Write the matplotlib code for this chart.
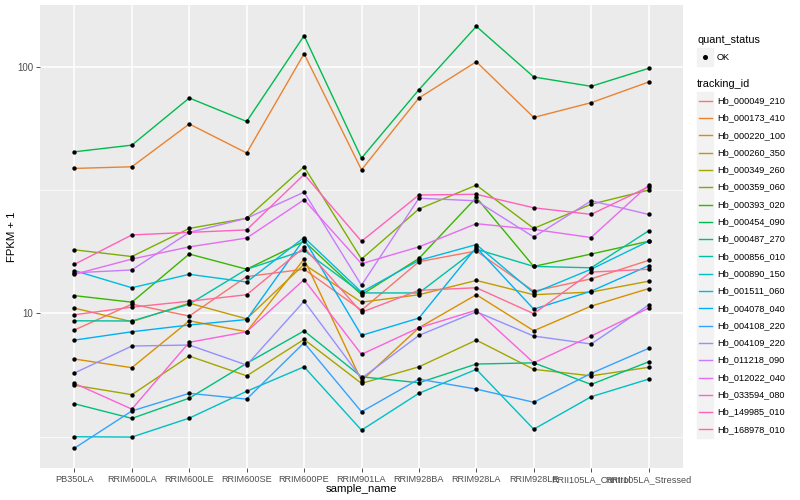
import math

import matplotlib
matplotlib.use("Agg")
import matplotlib.pyplot as plt
import numpy as np
from matplotlib.lines import Line2D
from matplotlib.patches import Rectangle
from matplotlib.ticker import FixedLocator, NullFormatter

plt.rcParams["font.family"] = ["Liberation Sans", "DejaVu Sans"]

samples = ["PB350LA", "RRIM600LA", "RRIM600LE", "RRIM600SE", "RRIM600PE",
           "RRIM901LA", "RRIM928BA", "RRIM928LA", "RRIM928LE",
           "RRII105LA_Control", "RRII105LA_Stressed"]

# FPKM + 1 per sample
hb_000049_210 = [8.56, 10.9, 9.75, 14.1, 15.1, 10.3, 16.2, 17.9, 12.3, 13.8, 16.4]
hb_000173_410 = [38.7, 39.3, 58.6, 44.7, 112.9, 38.2, 74.7, 104.8, 62.3, 71.5, 86.7]
hb_000220_100 = [6.53, 6.02, 9.33, 8.42, 16.6, 5.33, 8.74, 11.9, 8.50, 10.7, 12.6]
hb_000260_350 = [10.5, 9.25, 11.0, 9.5, 15.8, 11.1, 11.9, 13.6, 11.9, 12.2, 13.5]
hb_000349_260 = [5.11, 4.68, 6.71, 5.58, 7.84, 5.20, 6.07, 7.79, 5.93, 5.58, 6.04]
hb_000359_060 = [18.1, 17.0, 22.1, 24.3, 39.3, 16.6, 26.5, 33.1, 22.1, 27.7, 31.6]
hb_000393_020 = [11.8, 11.1, 17.4, 15.1, 19.6, 11.9, 16.7, 29.5, 15.5, 17.4, 19.6]
hb_000454_090 = [45.2, 48.1, 74.7, 60.0, 133.6, 42.6, 80.7, 145.8, 90.9, 83.3, 98.5]
hb_000487_270 = [4.30, 3.75, 4.53, 6.27, 8.49, 5.53, 5.23, 6.23, 6.30, 5.15, 6.36]
hb_000856_010 = [9.33, 9.31, 10.9, 15.1, 18.0, 12.1, 12.1, 18.2, 15.5, 15.3, 21.6]
hb_000890_150 = [3.16, 3.15, 3.76, 4.83, 6.07, 3.36, 4.74, 5.93, 3.39, 4.59, 5.41]
hb_001511_060 = [14.9, 12.7, 14.4, 13.4, 20.3, 12.2, 16.4, 19.0, 12.1, 15.1, 19.6]
hb_004078_040 = [7.79, 8.42, 8.97, 9.44, 20.0, 8.14, 9.57, 18.5, 10.4, 12.3, 15.6]
hb_004108_220 = [2.84, 4.02, 4.74, 4.49, 7.60, 3.99, 5.41, 4.93, 4.36, 5.71, 7.21]
hb_004109_220 = [5.73, 7.37, 7.44, 6.17, 11.2, 5.45, 8.14, 10.15, 8.09, 7.51, 10.8]
hb_011218_090 = [14.6, 15.0, 21.3, 24.3, 31.0, 13.0, 29.3, 28.6, 20.4, 28.6, 25.2]
hb_012022_040 = [14.4, 16.6, 18.6, 20.2, 28.9, 15.9, 18.6, 23.1, 21.9, 20.3, 33.1]
hb_033594_080 = [5.20, 4.09, 7.63, 8.42, 13.7, 6.82, 8.74, 10.3, 6.30, 8.09, 10.5]
hb_149985_010 = [15.8, 20.8, 21.3, 21.8, 36.6, 19.6, 30.2, 30.4, 26.8, 25.2, 32.6]
hb_168978_010 = [9.87, 10.6, 11.2, 11.9, 18.5, 10.1, 12.4, 12.7, 9.97, 14.7, 15.1]

tracking_ids = ["Hb_000049_210", "Hb_000173_410", "Hb_000220_100", "Hb_000260_350",
                "Hb_000349_260", "Hb_000359_060", "Hb_000393_020", "Hb_000454_090",
                "Hb_000487_270", "Hb_000856_010", "Hb_000890_150", "Hb_001511_060",
                "Hb_004078_040", "Hb_004108_220", "Hb_004109_220", "Hb_011218_090",
                "Hb_012022_040", "Hb_033594_080", "Hb_149985_010", "Hb_168978_010"]
series = [hb_000049_210, hb_000173_410, hb_000220_100, hb_000260_350,
          hb_000349_260, hb_000359_060, hb_000393_020, hb_000454_090,
          hb_000487_270, hb_000856_010, hb_000890_150, hb_001511_060,
          hb_004078_040, hb_004108_220, hb_004109_220, hb_011218_090,
          hb_012022_040, hb_033594_080, hb_149985_010, hb_168978_010]


def hcl(h, c=100.0, l=65.0):
    """polar LUV -> sRGB, like R's hcl()"""
    hr = math.radians(h)
    u, v = c * math.cos(hr), c * math.sin(hr)
    xn, yn, zn = 95.047, 100.0, 108.883
    den = xn + 15 * yn + 3 * zn
    un, vn = 4 * xn / den, 9 * yn / den
    y = yn * ((l + 16) / 116) ** 3
    up = u / (13 * l) + un
    vp = v / (13 * l) + vn
    x = 9.0 * y * up / (4 * vp)
    z = -x / 3 - 5 * y + 3 * y / vp
    x, y, z = x / 100, y / 100, z / 100
    r = 3.240479 * x - 1.537150 * y - 0.498535 * z
    g = -0.969256 * x + 1.875992 * y + 0.041556 * z
    b = 0.055648 * x - 0.204043 * y + 1.057311 * z

    def gam(t):
        t = 12.92 * t if t <= 0.0031308 else 1.055 * t ** (1 / 2.4) - 0.055
        return min(max(t, 0.0), 1.0)
    return (gam(r), gam(g), gam(b))


n = len(series)
colors = [hcl(15 + i * 360 / n) for i in range(n)]

W, H = 800, 500
fig = plt.figure(figsize=(8, 5), dpi=100)
left, right, top, bottom = 40, 683, 5, 468
ax = fig.add_axes([left / W, 1 - bottom / H, (right - left) / W, (bottom - top) / H])
ax.set_facecolor("#EBEBEB")
ax.set_yscale("log")

x = np.arange(len(samples))
for vals, col in zip(series, colors):
    ax.plot(x, vals, color=col, lw=1.0, zorder=2)
for vals in series:
    ax.scatter(x, vals, s=10, color="black", zorder=3, linewidths=0)

ax.set_xlim(-0.6, len(samples) - 0.4)
ax.set_ylim(2.36, 178)
ax.set_xticks(x)
ax.set_xticklabels(samples)
ax.set_yticks([10, 100])
ax.set_yticklabels(["10", "100"])
ax.yaxis.set_minor_locator(FixedLocator([10 ** 0.5, 10 ** 1.5]))
ax.yaxis.set_minor_formatter(NullFormatter())
ax.grid(which="major", color="white", lw=1.1)
ax.grid(which="minor", axis="y", color="white", lw=0.5)
ax.set_axisbelow(True)
for s in ax.spines.values():
    s.set_visible(False)
ax.tick_params(which="major", length=3, width=0.6, color="#333333",
               labelsize=6.6, labelcolor="#4D4D4D", pad=2)
ax.tick_params(axis="y", labelsize=7)
ax.tick_params(which="minor", length=0)
ax.set_xlabel("sample_name", fontsize=8.2, labelpad=0)
ax.set_ylabel("FPKM + 1", fontsize=8.2)
ax.yaxis.set_label_coords((17 - left) / (right - left), 0.5)


def fx(px):
    return px / W


def fy(py):
    return 1 - py / H


# legends
fig.text(fx(697), fy(40), "quant_status", fontsize=7.8, va="center", ha="left")
fig.patches.append(Rectangle((fx(697), fy(65.5)), 16 / W, 17 / H,
                             transform=fig.transFigure, color="#F2F2F2", zorder=1))
fig.lines.append(Line2D([fx(705)], [fy(57)], marker="o", markersize=2.6,
                        color="black", transform=fig.transFigure))
fig.text(fx(717), fy(57), "OK", fontsize=6.6, va="center", ha="left")

fig.text(fx(697), fy(84), "tracking_id", fontsize=7.8, va="center", ha="left")
for i, (name, col) in enumerate(zip(tracking_ids, colors)):
    yc = 100.7 + i * 17.3
    fig.patches.append(Rectangle((fx(697), fy(yc + 8.5)), 16 / W, 17 / H,
                                 transform=fig.transFigure, color="#F2F2F2", zorder=1))
    fig.lines.append(Line2D([fx(698.5), fx(711.5)], [fy(yc), fy(yc)], color=col,
                            lw=1.0, transform=fig.transFigure))
    fig.text(fx(717), fy(yc), name, fontsize=6.6, va="center", ha="left")

fig.savefig("out.png", dpi=100)
plt.close(fig)
